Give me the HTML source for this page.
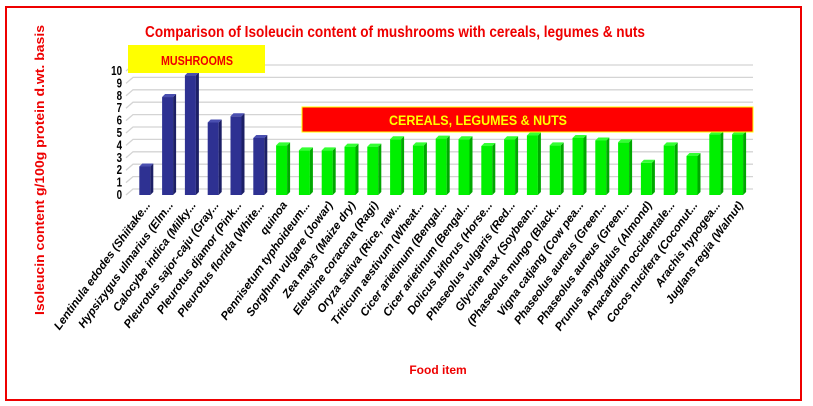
<!DOCTYPE html>
<html><head><meta charset="utf-8"><style>
html,body{margin:0;padding:0;background:#fff;}
svg{display:block;font-family:"Liberation Sans",sans-serif;}
</style></head><body>
<svg id="chart" width="813" height="406" viewBox="0 0 813 406">
<rect x="6" y="7" width="795" height="393" fill="#fff" stroke="#e00" stroke-width="2"/>
<text x="395" y="37" text-anchor="middle" fill="#e00" font-weight="bold" font-size="16" textLength="500" lengthAdjust="spacingAndGlyphs">Comparison of Isoleucin content of mushrooms with cereals, legumes &amp; nuts</text>
<text x="0" y="0" text-anchor="middle" fill="#e00" font-weight="bold" font-size="12.5" textLength="290" lengthAdjust="spacingAndGlyphs" transform="translate(44 170) rotate(-90)">Isoleucin content g/100g protein d.wt. basis</text>
<text x="438" y="374" text-anchor="middle" fill="#e00" font-weight="bold" font-size="12">Food item</text>
<g id="grid"></g>
<g id="bars"></g>
<g id="labels"></g>
<rect x="128" y="45" width="137" height="28" fill="#ffff00"/>
<text x="197" y="65" text-anchor="middle" fill="#e00" font-weight="bold" font-size="13" textLength="72" lengthAdjust="spacingAndGlyphs">MUSHROOMS</text>
<rect x="302" y="107" width="451" height="25" fill="#ff0000" stroke="#ff0" stroke-width="1"/>
<text x="478" y="125" text-anchor="middle" fill="#ffff00" font-weight="bold" font-size="13.5" textLength="178" lengthAdjust="spacingAndGlyphs">CEREALS, LEGUMES &amp; NUTS</text>
</svg>
<script>
const categories=["Lentinula edodes (Shiitake...","Hypsizygus ulmarius (Elm...","Calocybe indica (Milky...","Pleurotus sajor-caju (Gray...","Pleurotus djamor (Pink...","Pleurotus florida (White...","quinoa","Pennisetum typhoideum...","Sorghum vulgare (Jowar)","Zea mays (Maize dry)","Eleusine coracana (Ragi)","Oryza sativa (Rice, raw...","Triticum aestivum (Wheat...","Cicer arietinum (Bengal...","Cicer arietinum (Bengal...","Dolicus biflorus (Horse...","Phaseolus vulgaris (Red...","Glycine max (Soybean...","(Phaseolus mungo (Black...","Vigna catjang (Cow pea...","Phaseolus aureus (Green...","Phaseolus aureus (Green...","Prunus amygdalus (Almond)","Anacardium occidentale...","Cocos nucifera (Coconut...","Arachis hypogea...","Juglans regia (Walnut)"];
const values=[2.3,7.9,9.65,5.85,6.35,4.6,4.0,3.6,3.6,3.9,3.9,4.5,4.0,4.55,4.5,3.95,4.5,4.8,4.0,4.6,4.4,4.25,2.6,4.0,3.15,4.9,4.9];
const groups=["m","m","m","m","m","m","c","c","c","c","c","c","c","c","c","c","c","c","c","c","c","c","c","c","c","c","c"];
const yTicks=[0,1,2,3,4,5,6,7,8,9,10];
const NS="http://www.w3.org/2000/svg";
const y0=195,ppu=12.4,x0=139.3,step=22.8,bw=11;
function yScale(v){return y0-v*ppu;}
function xScale(i){return x0+i*step;}
function mk(t,a,p){const e=document.createElementNS(NS,t);for(const k in a)e.setAttribute(k,a[k]);p.appendChild(e);return e;}
const grid=document.getElementById('grid'),bars=document.getElementById('bars'),labels=document.getElementById('labels');
yTicks.forEach(t=>{
  const y=yScale(t);
  const l=mk('path',{d:`M126 ${y} L133 ${y-6} L753 ${y-6}`,stroke:'#d4d4d4','stroke-width':1.3,fill:'none'},grid);
  
  
  const tx=mk('text',{x:122,y:y+4,'text-anchor':'end','font-size':13,'font-weight':'bold',fill:'#000',transform:`translate(122 0) scale(0.75 1) translate(-122 0)`},grid);
  tx.textContent=t;
  
  
});
values.forEach((v,i)=>{
  const x=xScale(i),y=yScale(v);
  const m=groups[i]==="m";
  const front=m?'#2e3192':'#00f000',side=m?'#1c1f66':'#00a800',top=m?'#4a4fb0':'#33ff33';
  const g=mk('g',{},bars);
  
  
  mk('rect',{x:x,y:y,width:bw,height:y0-y,fill:front},g);
  mk('polygon',{points:`${x+bw},${y} ${x+bw+3},${y-3} ${x+bw+3},${y0-3} ${x+bw},${y0}`,fill:side},g);
  mk('polygon',{points:`${x},${y} ${x+3},${y-3} ${x+bw+3},${y-3} ${x+bw},${y}`,fill:top},g);
  const lx=x+bw/2+6,ly=205;
  const t=mk('text',{x:0,y:0,'text-anchor':'end','font-size':11.5,'font-weight':'bold','font-style':'italic',fill:'#000',transform:`translate(${lx} ${ly}) rotate(-54)`},labels);
  t.textContent=categories[i];
  
  
});
</script>
</body></html>
